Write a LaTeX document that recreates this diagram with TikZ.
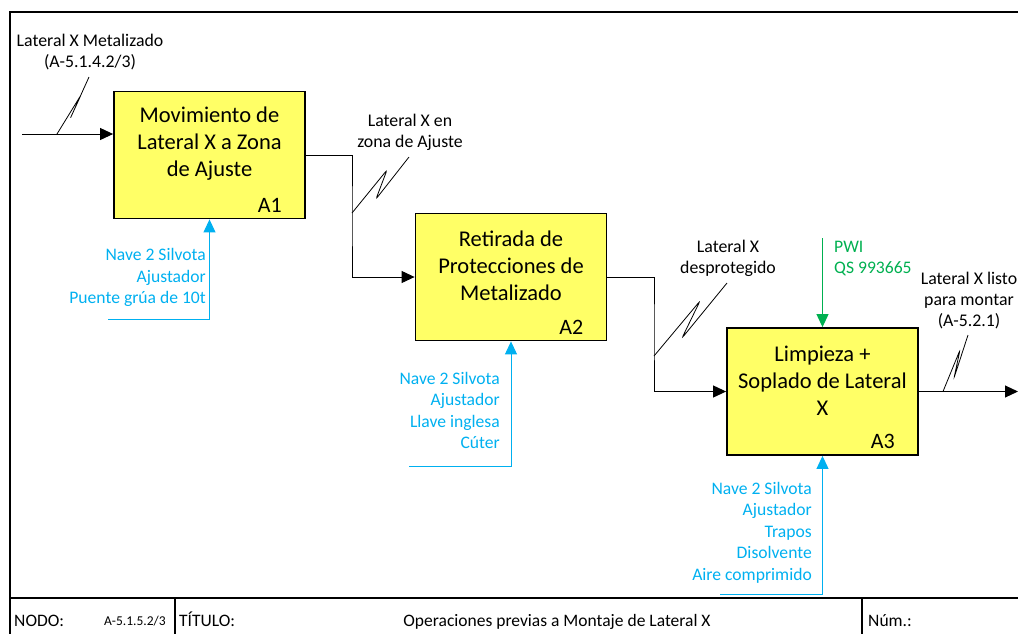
\documentclass[tikz,border=0pt]{standalone}
\usepackage{fontspec}
\setmainfont{Carlito}
\usetikzlibrary{arrows.meta,calc}
\definecolor{boxyellow}{RGB}{255,255,102}
\definecolor{mechblue}{RGB}{0,176,240}
\definecolor{ctrlgreen}{RGB}{0,176,80}

\begin{document}
\begin{tikzpicture}[x=1pt,y=-1pt,
  actbox/.style={draw=black, line width=1.8pt, fill=boxyellow,
    minimum width=191pt, minimum height=127pt, inner sep=0pt},
  acttext/.style={align=center, inner sep=0pt,
    font=\fontsize{22.5}{27}\selectfont},
  actid/.style={anchor=base east, inner sep=0pt,
    font=\fontsize{22}{24}\selectfont},
  lbl/.style={align=center, inner sep=0pt,
    font=\fontsize{17.8}{21}\selectfont},
  mechtext/.style={align=right, anchor=east, inner sep=0pt, text=mechblue,
    font=\fontsize{17.6}{21.5}\selectfont},
  ctrltext/.style={align=left, anchor=west, inner sep=0pt, text=ctrlgreen,
    font=\fontsize{17.6}{21}\selectfont},
  flow/.style={line width=1pt, -{Triangle[length=13pt,width=12pt]}},
  mech/.style={draw=mechblue, line width=1pt, -{Triangle[length=13pt,width=12pt]}},
  ctrl/.style={draw=ctrlgreen, line width=1pt, -{Triangle[length=13pt,width=12pt]}},
  squig/.style={line width=0.8pt, rounded corners=2.5pt},
  framel/.style={line width=2pt},
  tabtext/.style={anchor=base west, inner sep=0pt, font=\fontsize{17.5}{20}\selectfont},
]
\useasboundingbox (0,0) rectangle (1018,633);
\clip (0,0) rectangle (1018,633);

% outer frame and title block
\draw[framel] (1030,12) -- (10,12) -- (10,640);
\draw[framel] (10,598) -- (1030,598);
\draw[framel] (175,598) -- (175,640);
\draw[framel] (862,598) -- (862,640);
\node[tabtext] (tnodo) at (14,626) {NODO:};
\node[tabtext, font=\fontsize{13.5}{15}\selectfont] (tnum) at (104,625.5) {A-5.1.5.2/3};
\node[tabtext] (ttit) at (179,626) {TÍTULO:};
\node[tabtext, anchor=base] (tname) at (557,626) {Operaciones previas a Montaje de Lateral X};
\node[tabtext] (tnm) at (868,626) {Núm.:};

% activity boxes
\node[actbox] (A1) at (209.5,155) {};
\node[actbox] (A2) at (511,277) {};
\node[actbox] (A3) at (822.5,391.5) {};
\node[acttext] (A1t) at (209.5,143.5) {Movimiento de\\Lateral X a Zona\\de Ajuste};
\node[acttext] (A2t) at (511,265.5) {Retirada de\\Protecciones de\\Metalizado};
\node[acttext] (A3t) at (822.5,380.5) {Limpieza +\\Soplado de Lateral\\X};
\node[actid] (A1id) at ($(A1.south east)+(-24,-7)$) {A1};
\node[actid] (A2id) at ($(A2.south east)+(-24,-7)$) {A2};
\node[actid] (A3id) at ($(A3.south east)+(-24,-7)$) {A3};

% inputs and outputs
\coordinate (in1) at (22,134);
\coordinate (j1) at (352,216);
\coordinate (j2) at (654,330);
\coordinate (out3) at (1018,391.5);
\draw[flow] (in1) -- (in1 -| A1.west);
\draw[flow] (A1.east) -| (j1) |- (A2.west);
\draw[flow] (A2.east) -| (j2) |- (A3.west);
\draw[flow] (A3.east) -- (out3);

% label squiggles
\coordinate (s1) at (57,134);
\coordinate (s2) at (352,213);
\coordinate (s3) at (654,356);
\coordinate (s4) at (943,391.5);
\draw[squig] (s1) -- (81,95) -- (70,119) -- (89,77);
\draw[squig] (s2) -- (387,170) -- (376,199) -- (409,157);
\draw[squig] (s3) -- (700,301) -- (682,338) -- (727,283);
\draw[squig] (s4) -- (960,350) -- (954,378) -- (968,335);

\node[lbl] (l1) at (90,52) {Lateral X Metalizado\\(A-5.1.4.2/3)};
\node[lbl] (l2) at (410,132.5) {Lateral X en\\zona de Ajuste};
\node[lbl] (l3) at (728,258.5) {Lateral X\\desprotegido};
\node[lbl] (l4) at (969,301) {Lateral X listo\\para montar\\(A-5.2.1)};

% control
\coordinate (c3) at (822.5,238);
\draw[ctrl] (c3) -- (A3.north);
\node[ctrltext] (c3t) at (834,258.5) {PWI\\QS 993665};

% mechanisms
\coordinate (m1) at (108,319.5);
\coordinate (m2) at (409,466.5);
\coordinate (m3) at (720,594);
\draw[mech] (m1) -| (A1.south);
\draw[mech] (m2) -| (A2.south);
\draw[mech] (m3) -| (A3.south);
\node[mechtext] (m1t) at (206,277.5) {Nave 2 Silvota\\Ajustador\\Puente grúa de 10t};
\node[mechtext] (m2t) at (500,410.5) {Nave 2 Silvota\\Ajustador\\Llave inglesa\\Cúter};
\node[mechtext] (m3t) at (812,532.5) {Nave 2 Silvota\\Ajustador\\Trapos\\Disolvente\\Aire comprimido};
\end{tikzpicture}
\end{document}
